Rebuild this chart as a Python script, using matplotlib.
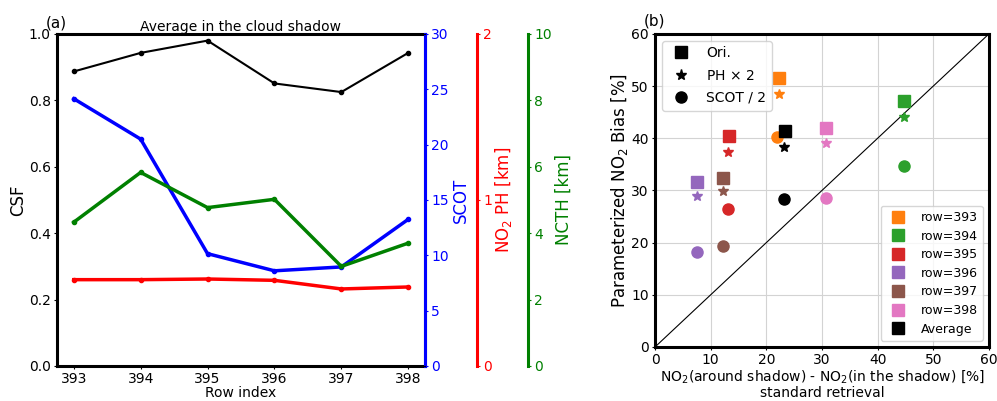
import numpy as np
import matplotlib
matplotlib.use('Agg')
import matplotlib.pyplot as plt
from matplotlib.lines import Line2D

# --- panel (a) data ---
rows = [393, 394, 395, 396, 397, 398]
csf = [0.887, 0.943, 0.980, 0.851, 0.825, 0.943]
scot = [24.15, 20.5, 10.15, 8.6, 8.95, 13.25]
no2_ph = [0.520, 0.520, 0.524, 0.516, 0.464, 0.476]
ncth = [4.33, 5.83, 4.77, 5.02, 3.00, 3.70]

# --- panel (b) data ---
labels = ['row=393', 'row=394', 'row=395', 'row=396', 'row=397', 'row=398', 'Average']
colors = ['tab:orange', 'tab:green', 'tab:red', 'tab:purple', 'tab:brown', 'tab:pink', 'black']
x_diff = [22.2, 44.8, 13.2, 7.5, 12.3, 30.8, 23.3]
bias_ori = [51.6, 47.2, 40.5, 31.6, 32.3, 41.9, 41.3]
x_ph = [22.2, 44.8, 13.1, 7.5, 12.3, 30.8, 23.2]
bias_ph2 = [48.4, 44.1, 37.4, 28.9, 29.9, 39.0, 38.3]
x_scot = [22.0, 44.8, 13.1, 7.5, 12.3, 30.8, 23.2]
bias_scot = [40.3, 34.7, 26.5, 18.2, 19.4, 28.5, 28.4]

plt.rcParams['font.size'] = 10
plt.rcParams['xtick.major.size'] = 2.5
plt.rcParams['ytick.major.size'] = 2.5
plt.rcParams['xtick.major.pad'] = 2
plt.rcParams['ytick.major.pad'] = 2

fig = plt.figure(figsize=(9.97, 4.01), dpi=100)

# ---------------- panel (a) ----------------
ax = fig.add_axes([0.0572, 0.0873, 0.369, 0.828])
ax.plot(rows, csf, color='black', lw=1.5, marker='o', ms=3)
ax.set_ylim(0, 1)
ax.set_xticks(rows)
ax.set_ylabel('CSF', fontsize=12, labelpad=1)
ax.set_xlabel('Row index', fontsize=10, labelpad=0)
ax.tick_params(labelsize=10)
for s in ax.spines.values():
    s.set_linewidth(2.2)
ax.set_title('Average in the cloud shadow', fontsize=10, pad=1)
ax.text(-0.03, 1.02, '(a)', transform=ax.transAxes, fontsize=11)

ax2 = ax.twinx()
ax2.plot(rows, scot, color='blue', lw=2.5, marker='o', ms=3)
ax2.set_ylim(0, 30)
ax2.set_ylabel('SCOT', color='blue', fontsize=12, labelpad=2)
ax2.tick_params(axis='y', colors='blue', labelsize=10)
ax2.spines['right'].set_color('blue')
ax2.spines['right'].set_linewidth(2.2)

ax3 = ax.twinx()
ax3.spines['right'].set_position(('axes', 1.141))
ax3.plot(rows, no2_ph, color='red', lw=2.5, marker='o', ms=3)
ax3.set_ylim(0, 2)
ax3.set_yticks([0, 1, 2])
ax3.set_ylabel('NO$_2$ PH [km]', color='red', fontsize=12, labelpad=1)
ax3.tick_params(axis='y', colors='red', labelsize=10)
ax3.spines['right'].set_color('red')
ax3.spines['right'].set_linewidth(2.2)

ax4 = ax.twinx()
ax4.spines['right'].set_position(('axes', 1.280))
ax4.plot(rows, ncth, color='green', lw=2.5, marker='o', ms=3)
ax4.set_ylim(0, 10)
ax4.set_ylabel('NCTH [km]', color='green', fontsize=12, labelpad=2)
ax4.tick_params(axis='y', colors='green', labelsize=10)
ax4.spines['right'].set_color('green')
ax4.spines['right'].set_linewidth(2.2)
for a in (ax3, ax4):
    for side in ('top', 'bottom', 'left'):
        a.spines[side].set_visible(False)

# ---------------- panel (b) ----------------
bx = fig.add_axes([0.657, 0.1347, 0.335, 0.781])
bx.plot([0, 60], [0, 60], color='black', lw=0.8)
for i in range(len(labels)):
    bx.plot(x_diff[i], bias_ori[i], marker='s', ms=8, color=colors[i], ls='none', zorder=3)
    bx.plot(x_ph[i], bias_ph2[i], marker='*', ms=7, color=colors[i], ls='none', zorder=3)
    bx.plot(x_scot[i], bias_scot[i], marker='o', ms=8, color=colors[i], ls='none', zorder=3)
bx.set_xlim(0, 60)
bx.set_ylim(0, 60)
bx.set_xticks(range(0, 61, 10))
bx.set_yticks(range(0, 61, 10))
bx.grid(True, color='lightgray', lw=0.8)
bx.set_axisbelow(True)
bx.tick_params(labelsize=10)
for s in bx.spines.values():
    s.set_linewidth(2.2)
bx.set_ylabel('Parameterized NO$_2$ Bias [%]', fontsize=12, labelpad=1)
bx.set_xlabel('NO$_2$(around shadow) - NO$_2$(in the shadow) [%]\nstandard retrieval',
              fontsize=10, labelpad=1, linespacing=1.05)
bx.text(-0.035, 1.025, '(b)', transform=bx.transAxes, fontsize=11)

sym_handles = [Line2D([], [], marker='s', color='black', ls='none', ms=8),
               Line2D([], [], marker='*', color='black', ls='none', ms=8),
               Line2D([], [], marker='o', color='black', ls='none', ms=8)]
leg1 = bx.legend(sym_handles, ['Ori.', 'PH $\\times$ 2', 'SCOT / 2'],
                 loc='upper left', fontsize=10, labelspacing=0.6)
bx.add_artist(leg1)

col_handles = [Line2D([], [], marker='s', color=c, ls='none', ms=8) for c in colors]
bx.legend(col_handles, labels, loc='lower right', fontsize=9,
          labelspacing=0.45)

fig.savefig('out.png', dpi=100)
